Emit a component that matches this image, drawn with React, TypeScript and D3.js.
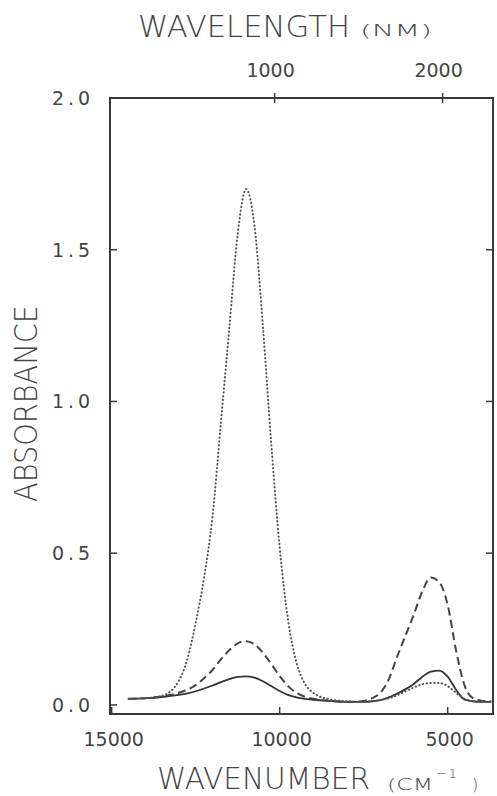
import * as d3 from 'd3';
import { useEffect, useRef } from 'react';

// wavenumber grid (cm-1), shared by the three spectra
const wavenumbers = [14500, 14000, 13500, 13000, 12750, 12500, 12250, 12000, 11750, 11500, 11250, 11000, 10750, 10500, 10250, 10000, 9750, 9500, 9250, 9000, 8500, 8000, 7500, 7250, 7000, 6750, 6500, 6250, 6000, 5750, 5500, 5250, 5000, 4750, 4500, 4250, 4000, 3700];

const solidAbs = [0.02, 0.022, 0.026, 0.033, 0.038, 0.045, 0.054, 0.064, 0.075, 0.085, 0.092, 0.094, 0.09, 0.078, 0.062, 0.046, 0.033, 0.025, 0.02, 0.017, 0.013, 0.01, 0.01, 0.012, 0.016, 0.025, 0.037, 0.052, 0.07, 0.093, 0.11, 0.113, 0.093, 0.05, 0.018, 0.012, 0.01, 0.01];

const dashedAbs = [0.02, 0.022, 0.028, 0.04, 0.05, 0.065, 0.088, 0.115, 0.15, 0.18, 0.203, 0.21, 0.2, 0.172, 0.135, 0.095, 0.062, 0.04, 0.027, 0.02, 0.013, 0.01, 0.013, 0.022, 0.04, 0.085, 0.16, 0.23, 0.3, 0.375, 0.42, 0.405, 0.33, 0.18, 0.065, 0.022, 0.014, 0.012];

const dottedAbs = [0.02, 0.022, 0.03, 0.08, 0.15, 0.27, 0.42, 0.62, 0.93, 1.24, 1.55, 1.7, 1.58, 1.25, 0.86, 0.52, 0.28, 0.14, 0.07, 0.04, 0.018, 0.012, 0.01, 0.012, 0.016, 0.022, 0.032, 0.045, 0.058, 0.068, 0.072, 0.072, 0.062, 0.04, 0.02, 0.012, 0.01, 0.01];

const absTicks = [0.0, 0.5, 1.0, 1.5, 2.0];
const wnTicks = [15000, 10000, 5000];
const nmTicks = [1000, 2000];

const FONT = "'DejaVu Sans', sans-serif";
const INK = '#3a3a3a';

function App() {
  const svgRef = useRef(null);

  useEffect(() => {
    document.body.style.margin = '0';
    const w = 497;
    const h = 796;
    const svg = d3.select(svgRef.current);
    svg.selectAll('*').remove();
    svg.attr('width', w).attr('height', h).style('background', 'white').style('display', 'block');

    const left = 110, right = 493, top = 98, bottom = 714;

    const x = d3.scaleLinear().domain([15050, 3650]).range([left, right]);
    // top wavelength axis sits a few px left in the original plot
    const xTop = d3.scaleLinear().domain([14900, 3500]).range([left, right]);
    const y = d3.scaleLinear().domain([-0.03, 2.0]).range([bottom, top]);

    // frame
    svg.append('rect')
      .attr('x', left).attr('y', top)
      .attr('width', right - left).attr('height', bottom - top)
      .attr('fill', 'none').attr('stroke', INK).attr('stroke-width', 2);

    // left / right ticks (inward)
    absTicks.forEach(t => {
      svg.append('line')
        .attr('x1', left).attr('x2', left + 7)
        .attr('y1', y(t)).attr('y2', y(t))
        .attr('stroke', INK).attr('stroke-width', 1.5);
      if (t > 0 && t < 2) {
        svg.append('line')
          .attr('x1', right - 7).attr('x2', right)
          .attr('y1', y(t)).attr('y2', y(t))
          .attr('stroke', INK).attr('stroke-width', 1.5);
      }
      svg.append('text')
        .attr('x', 90).attr('y', y(t) + 7)
        .attr('text-anchor', 'end')
        .attr('textLength', 38).attr('lengthAdjust', 'spacing')
        .style('font', `19px ${FONT}`)
        .attr('fill', '#444')
        .text(t.toFixed(1));
    });

    // bottom ticks (wavenumber)
    wnTicks.forEach(t => {
      svg.append('line')
        .attr('x1', x(t)).attr('x2', x(t))
        .attr('y1', bottom - 7).attr('y2', bottom)
        .attr('stroke', INK).attr('stroke-width', 1.5);
      svg.append('text')
        .attr('x', x(t) + 2).attr('y', 746)
        .attr('text-anchor', 'middle')
        .style('font', `19px ${FONT}`)
        .attr('fill', '#444')
        .text(t);
    });

    // top ticks (wavelength in nm -> wavenumber)
    nmTicks.forEach(nm => {
      const xp = xTop(1e7 / nm);
      svg.append('line')
        .attr('x1', xp).attr('x2', xp)
        .attr('y1', top - 5).attr('y2', top + 5)
        .attr('stroke', INK).attr('stroke-width', 1.5);
      svg.append('text')
        .attr('x', xp - 4).attr('y', 77)
        .attr('text-anchor', 'middle')
        .style('font', `19px ${FONT}`)
        .attr('fill', '#444')
        .text(nm);
    });

    // spectra
    const line = d3.line()
      .x((d, i) => x(wavenumbers[i]))
      .y(d => y(d))
      .curve(d3.curveMonotoneX);

    svg.append('path')
      .attr('d', line(solidAbs))
      .attr('fill', 'none').attr('stroke', '#333').attr('stroke-width', 1.8);

    svg.append('path')
      .attr('d', line(dashedAbs))
      .attr('fill', 'none').attr('stroke', '#444').attr('stroke-width', 2)
      .attr('stroke-dasharray', '8 4.5');

    svg.append('path')
      .attr('d', line(dottedAbs))
      .attr('fill', 'none').attr('stroke', '#555').attr('stroke-width', 2)
      .attr('stroke-linecap', 'round')
      .attr('stroke-dasharray', '0.4 3.4');

    // axis titles
    const t1 = svg.append('text')
      .attr('x', 138).attr('y', 37)
      .attr('fill', '#444')
      .style('font', `200 30px ${FONT}`);
    t1.append('tspan').attr('textLength', 212).attr('lengthAdjust', 'spacingAndGlyphs').text('WAVELENGTH');
    svg.append('text')
      .attr('x', 360).attr('y', 36)
      .attr('fill', '#444')
      .attr('textLength', 72).attr('lengthAdjust', 'spacingAndGlyphs')
      .style('font', `200 15px ${FONT}`)
      .text('(NM)');

    svg.append('text')
      .attr('x', 157).attr('y', 789)
      .attr('fill', '#444')
      .attr('textLength', 213).attr('lengthAdjust', 'spacingAndGlyphs')
      .style('font', `200 31px ${FONT}`)
      .text('WAVENUMBER');
    svg.append('text')
      .attr('x', 387).attr('y', 790)
      .attr('fill', '#444')
      .attr('textLength', 46).attr('lengthAdjust', 'spacingAndGlyphs')
      .style('font', `200 16px ${FONT}`)
      .text('(CM');
    svg.append('text')
      .attr('x', 436).attr('y', 778)
      .attr('fill', '#444')
      .attr('textLength', 21).attr('lengthAdjust', 'spacingAndGlyphs')
      .style('font', `200 13px ${FONT}`)
      .text('\u2212\u200a1');
    svg.append('text')
      .attr('x', 472).attr('y', 790)
      .attr('fill', '#444')
      .style('font', `200 16px ${FONT}`)
      .text(')');

    svg.append('text')
      .attr('transform', `translate(37, ${403.5}) rotate(-90)`)
      .attr('text-anchor', 'middle')
      .attr('fill', '#444')
      .attr('textLength', 197).attr('lengthAdjust', 'spacingAndGlyphs')
      .style('font', `200 32px ${FONT}`)
      .text('ABSORBANCE');
  });

  return (
    <div>
      <svg ref={svgRef}></svg>
    </div>
  );
}

export default App;
